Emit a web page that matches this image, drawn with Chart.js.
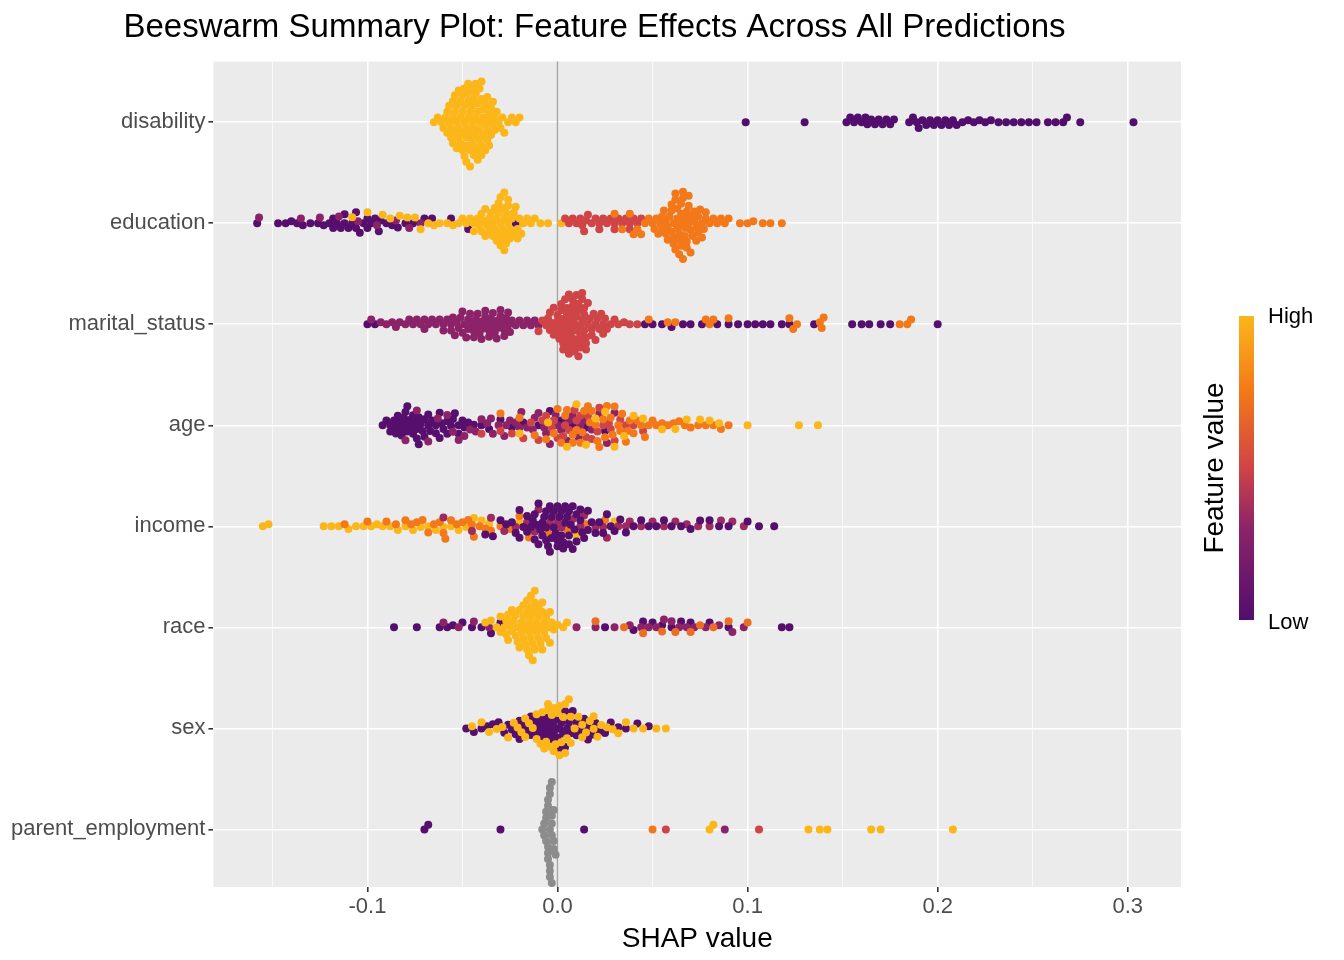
<!DOCTYPE html>
<html>
<head>
<meta charset="utf-8">
<script src="https://cdn.jsdelivr.net/npm/chart.js@4"></script>
<style>
  html, body { margin: 0; padding: 0; background: #fff; }
  #wrap { width: 1344px; height: 960px; }
</style>
</head>
<body>
<div id="wrap"><canvas id="grafico" width="1344" height="960"></canvas></div>
<script>
// SHAP values in thousandths, grouped by feature value colour (0 = low, 1 = high, null = missing)
const features = ['parent_employment', 'sex', 'race', 'income', 'age', 'marital_status', 'education', 'disability'];

const shap = {
  disability: [
    { c: 1, xs: [-65,-63,-61,-60,-59,-58,-58,-57,-57,-56,-56,-55,-55,-55,-54,-54,-54,-53,-53,-53,-52,-52,-52,-51,-51,-51,-50,-50,-50,-50,-49,-49,-49,-49,-48,-48,-48,-48,-47,-47,-47,-47,-46,-46,-46,-46,-45,-45,-45,-45,-44,-44,-44,-44,-43,-43,-43,-43,-42,-42,-42,-42,-41,-41,-41,-41,-40,-40,-40,-40,-39,-39,-39,-38,-38,-38,-37,-37,-37,-36,-36,-36,-35,-35,-34,-34,-33,-33,-32,-31,-30,-29,-28,-26,-24,-22,-20] },
    { c: 0, xs: [99,130,152,154,156,158,160,162,163,165,167,169,171,173,175,177,185,187,189,190,192,194,196,198,200,202,204,206,208,210,213,216,219,222,225,228,232,236,240,244,248,252,258,262,266,268,275,303] }
  ],
  education: [
    { c: 0.02, xs: [-158,-147,-143,-140,-137,-134,-130,-126,-123,-120,-118,-116,-114,-112,-110,-108,-106,-104,-102,-100,-98,-96,-93,-90,-87,-84,-80,-76,-70,-66,-56,-47,-22,-118,-112,-106,-100,-94] },
    { c: 0.3, xs: [-157,-135,-125,-115,-105,-95,-85,-78,-72] },
    { c: 1, xs: [-108,-100,-92,-88,-83,-79,-75,-72,-68,-65,-62,-58,-55,-52,-50,-48,-46,-44,-42,-41,-40,-39,-38,-37,-36,-35,-34,-33,-32,-32,-31,-31,-30,-30,-29,-29,-28,-28,-27,-27,-26,-26,-25,-24,-23,-22,-21,-20,-19,-18,-16,-14,-12,-9,-5,2,-36,-34,-33,-31,-30,-29,-28,-27,-26,-25,-23,-21,-38,-40,-44] },
    { c: 0.5, xs: [4,6,8,10,12,13,15,16,18,20,22,24,26,28,30,32,34,36,38,40,42,44,14,22,30,38] },
    { c: 0.75, xs: [30,34,38,40,42,44,46,48,50,51,52,53,54,55,56,57,58,59,60,60,61,61,62,62,63,63,64,64,65,65,66,66,67,67,68,68,69,69,70,70,71,72,73,74,75,76,77,78,80,82,84,86,88,90,96,100,103,108,112,118,55,58,60,62,63,64,65,66,67,68,70,72,74,76,57,61,65,69,73,78] }
  ],
  marital_status: [
    { c: 0.02, xs: [-100,-96] },
    { c: 0.3, xs: [-98,-93,-90,-87,-85,-83,-80,-78,-76,-74,-72,-70,-68,-66,-64,-62,-60,-58,-56,-55,-54,-53,-52,-51,-50,-49,-48,-47,-46,-45,-44,-43,-42,-41,-40,-39,-38,-37,-36,-35,-34,-33,-32,-31,-30,-29,-28,-27,-26,-25,-24,-22,-20,-18,-16,-14,-12,-10,-50,-47,-44,-42,-40,-38,-36,-34,-32,-30,-28,-26,-60,-56,-70] },
    { c: 0.5, xs: [-10,-8,-6,-5,-4,-3,-2,-1,0,1,1,2,2,3,3,4,4,5,5,6,6,7,7,8,8,9,9,10,10,11,11,12,12,13,13,14,14,15,15,16,17,18,19,20,21,22,23,24,25,26,28,30,32,35,38,42,0,2,4,5,6,7,8,9,10,11,12,13,14,16,18,20,3,6,9,12,15,-4,-2,24] },
    { c: 0.02, xs: [46,50,55,60,66,70,76,84,90,95,100,104,108,112,118,122,135,155,160,164,170,175,200] },
    { c: 0.75, xs: [48,58,62,78,80,82,90,122,124,126,138,139,140,180,184,186] }
  ],
  age: [
    { c: 0.02, xs: [-92,-90,-88,-86,-85,-84,-83,-82,-81,-80,-79,-78,-77,-76,-75,-74,-73,-72,-71,-70,-68,-66,-64,-62,-60,-58,-56,-54,-52,-50,-47,-44,-40,-36,-30,-24,-18,-10,-4,2,8,15,25,-88,-85,-82,-79,-76,-73,-70,-67,-64,-61,-58,-55,-52,-49,-80,-74,-68,-62] },
    { c: 0.3, xs: [-80,-74,-68,-63,-58,-55,-52,-49,-46,-43,-40,-37,-34,-31,-28,-25,-22,-19,-16,-13,-10,-7,-4,-1,2,5,8,11,14,18,22,26,30,-35,-27,-20,-12,-6,0,6,12] },
    { c: 0.5, xs: [-40,-30,-24,-18,-14,-10,-6,-3,0,3,6,9,12,15,18,21,24,27,30,33,36,40,45,-8,-2,4,10,16,22,28] },
    { c: 0.75, xs: [-30,-20,-12,-6,-2,2,5,8,10,12,14,16,18,20,22,24,26,28,30,32,34,36,38,40,42,44,46,48,50,52,55,58,61,64,67,70,74,78,82,86,90,0,4,8,13,17,21,25,29,33,37] },
    { c: 1, xs: [-20,-5,5,15,25,35,45,55,62,68,75,80,85,100,127,137,10,20,30,40] }
  ],
  income: [
    { c: 1, xs: [-155,-152,-123,-119,-115,-110,-106,-102,-98,-95,-92,-88,-84,-80,-76,-72,-68,-64,-60,-56,-52,-48,-44,-40,-36,-20,10,30] },
    { c: 0.75, xs: [-112,-100,-90,-85,-80,-77,-74,-71,-68,-65,-62,-59,-56,-53,-50,-47,-44,-41,-38,-35,-30,-25,-20,-15,-5,5,15,25,-60,-45] },
    { c: 0.35, xs: [-60,-45,-35,-28,-22,-16,-10,-4,2,8,14,20,26,32,38,44,50,56,62,68,74,80,86,92,98,-12,0,12,24,36] },
    { c: 0.02, xs: [-38,-34,-30,-27,-24,-22,-20,-18,-16,-14,-12,-11,-10,-9,-8,-7,-6,-5,-4,-3,-2,-1,0,1,2,3,4,5,6,7,8,9,10,12,14,16,18,20,22,24,26,28,30,33,36,40,44,48,52,56,60,65,70,75,80,85,90,100,106,114,-20,-16,-13,-10,-8,-6,-4,-2,0,2,4,6,8,10,13,16,-12,-6,0,6,12,-3,3] }
  ],
  race: [
    { c: 0.02, xs: [-86,-74,-62,-58,-55,-50,-45,-40,-35,-30,25,40,45,50,55,60,65,70,80,90,118,122] },
    { c: 0.3, xs: [-60,-52,-44,-36,10,20,30,38,44,48,52,56,60,64,68,72,78,85,92,98] },
    { c: 0.7, xs: [20,35,45,55,62,70,75,82,90,100] },
    { c: 1, xs: [-38,-35,-32,-30,-28,-27,-26,-25,-24,-23,-22,-21,-20,-19,-19,-18,-18,-17,-17,-16,-16,-15,-15,-15,-14,-14,-14,-13,-13,-13,-12,-12,-12,-11,-11,-10,-10,-9,-9,-8,-8,-7,-6,-5,-4,-3,-2,0,3,5,-30,-27,-24,-22,-20,-18,-16,-14,-12,-10,-8,-6,-4,-26,-21,-7] }
  ],
  sex: [
    { c: 0.02, xs: [-48,-44,-40,-37,-34,-31,-28,-26,-24,-22,-20,-18,-16,-14,-12,-10,-9,-8,-7,-6,-5,-4,-3,-2,-1,0,1,2,3,4,5,6,8,10,12,14,16,18,20,22,25,28,32,36,42,48,-20,-14,-8,-2,4,10,16,-11,-5,1,7] },
    { c: 1, xs: [-45,-40,-36,-32,-29,-26,-23,-21,-19,-17,-15,-13,-11,-9,-7,-6,-5,-4,-3,-2,-1,0,1,2,3,4,5,6,7,9,11,13,15,17,19,21,23,26,29,32,36,40,45,52,57,-17,-11,-5,1,7,13,19,-8,-2,4] }
  ],
  parent_employment: [
    { c: null, xs: [-8,-7,-7,-6,-6,-6,-5,-5,-5,-5,-5,-4,-4,-4,-4,-4,-4,-3,-3,-3,-3,-3,-2,-2,-2,-1] },
    { c: 0.02, xs: [-70,-68,-30,14] },
    { c: 0.75, xs: [50] },
    { c: 0.5, xs: [57,106] },
    { c: 0.3, xs: [88] },
    { c: 1, xs: [80,82,132,138,142,165,170,208] }
  ]
};

const stops = [[0, [82, 14, 109]], [0.3, [140, 35, 105]], [0.5, [207, 68, 70]], [0.75, [243, 120, 25]], [1, [251, 182, 26]]];
function colorOf(c) {
  if (c === null) return '#8c8c8c';
  for (let i = 1; i < stops.length; i++) {
    if (c <= stops[i][0]) {
      const [a, ca] = stops[i - 1], [b, cb] = stops[i];
      const t = (c - a) / (b - a);
      const m = ca.map((v, k) => Math.round(v + (cb[k] - v) * t));
      return `rgb(${m[0]},${m[1]},${m[2]})`;
    }
  }
  return 'rgb(251,182,26)';
}

// beeswarm layout in pixel space
const PX_X = 1880, PX_Y = 99.1, D = 6;
const points = [], colors = [];
features.forEach((f, row) => {
  const pts = [];
  shap[f].forEach(g => g.xs.forEach(x => pts.push({ x: x / 1000, col: colorOf(g.c) })));
  const order = pts.slice().sort((a, b) => a.x - b.x);
  const placed = [];
  order.forEach(p => {
    const px = p.x * PX_X;
    const near = placed.filter(q => Math.abs(q.px - px) < D);
    const cands = [0];
    near.forEach(q => {
      const h = Math.sqrt(D * D - (q.px - px) ** 2);
      cands.push(q.py + h, q.py - h);
    });
    cands.sort((a, b) => Math.abs(a) - Math.abs(b));
    let py = 0;
    for (const cy of cands) {
      if (near.every(q => (q.px - px) ** 2 + (q.py - cy) ** 2 >= D * D - 0.01)) { py = cy; break; }
    }
    placed.push({ px, py });
    p.dy = py;
  });
  pts.forEach(p => {
    points.push({ x: p.x, y: row + p.dy / PX_Y });
    colors.push(p.col);
  });
});

const FONT = 'Arial, "Liberation Sans"';
const panelPlugin = {
  id: 'panel',
  beforeDraw(chart) {
    const { ctx, chartArea: a } = chart;
    ctx.save();
    ctx.fillStyle = '#EBEBEB';
    ctx.fillRect(a.left, a.top, a.width, a.height);
    ctx.restore();
  },
  beforeDatasetsDraw(chart) {
    const { ctx, chartArea: a, scales } = chart;
    const x0 = scales.x.getPixelForValue(0);
    ctx.save();
    ctx.strokeStyle = '#A6A6A6';
    ctx.lineWidth = 1.5;
    ctx.beginPath(); ctx.moveTo(x0, a.top); ctx.lineTo(x0, a.bottom); ctx.stroke();
    ctx.restore();
  },
  afterDraw(chart) {
    const ctx = chart.ctx;
    const x = 1239, top = 316, bot = 620, w = 15;
    const grad = ctx.createLinearGradient(0, bot, 0, top);
    stops.forEach(s => grad.addColorStop(s[0], `rgb(${s[1].join(',')})`));
    ctx.save();
    ctx.fillStyle = grad;
    ctx.fillRect(x, top, w, bot - top);
    ctx.fillStyle = '#000';
    ctx.font = '22px ' + FONT;
    ctx.textBaseline = 'middle';
    ctx.fillText('High', 1268, 317);
    ctx.fillText('Low', 1268, 623);
    ctx.translate(1215, 468);
    ctx.rotate(-Math.PI / 2);
    ctx.textAlign = 'center';
    ctx.font = '28px ' + FONT;
    ctx.fillText('Feature value', 0, 0);
    ctx.restore();
  }
};

new Chart(document.getElementById('grafico').getContext('2d'), {
  type: 'scatter',
  data: {
    datasets: [{
      data: points,
      pointBackgroundColor: colors,
      pointBorderWidth: 0,
      pointRadius: 4,
      pointHoverRadius: 4
    }]
  },
  options: {
    responsive: false,
    animation: false,
    layout: { padding: { right: 163, top: 0, left: 8, bottom: 4 } },
    plugins: {
      legend: { display: false },
      tooltip: { enabled: false },
      title: {
        display: true,
        text: 'Beeswarm Summary Plot: Feature Effects Across All Predictions',
        color: '#000',
        font: { size: 33, family: FONT, weight: 'normal' },
        padding: { top: 8, bottom: 14 },
        align: 'center'
      }
    },
    scales: {
      x: {
        type: 'linear',
        min: -0.181, max: 0.328,
        afterBuildTicks(s) {
          const t = [];
          for (let v = -0.15; v <= 0.3001; v += 0.05) t.push({ value: Math.round(v * 100) / 100 });
          s.ticks = t;
        },
        grid: {
          color: '#FFFFFF',
          lineWidth: c => (Math.abs(Math.round(c.tick.value * 100)) % 10 === 0 ? 1.6 : 0.7),
          tickColor: c => (Math.abs(Math.round(c.tick.value * 100)) % 10 === 0 ? '#333' : 'rgba(0,0,0,0)'),
          tickLength: 5
        },
        border: { display: false },
        ticks: {
          color: '#4D4D4D',
          font: { size: 22, family: FONT },
          padding: 2,
          callback: v => (Math.abs(Math.round(v * 100)) % 10 === 0 ? v.toFixed(1) : '')
        },
        title: {
          display: true, text: 'SHAP value', color: '#000',
          font: { size: 28, family: FONT }, padding: { top: 0, bottom: 0 }
        }
      },
      y: {
        type: 'linear',
        min: -0.57, max: 7.6,
        afterBuildTicks(s) { s.ticks = features.map((f, i) => ({ value: i })); },
        grid: { color: '#FFFFFF', lineWidth: 1.6, tickColor: '#333', tickLength: 5 },
        border: { display: false },
        ticks: {
          color: '#4D4D4D',
          font: { size: 22, family: FONT },
          callback: v => features[v]
        }
      }
    }
  },
  plugins: [panelPlugin]
});
</script>
</body>
</html>
